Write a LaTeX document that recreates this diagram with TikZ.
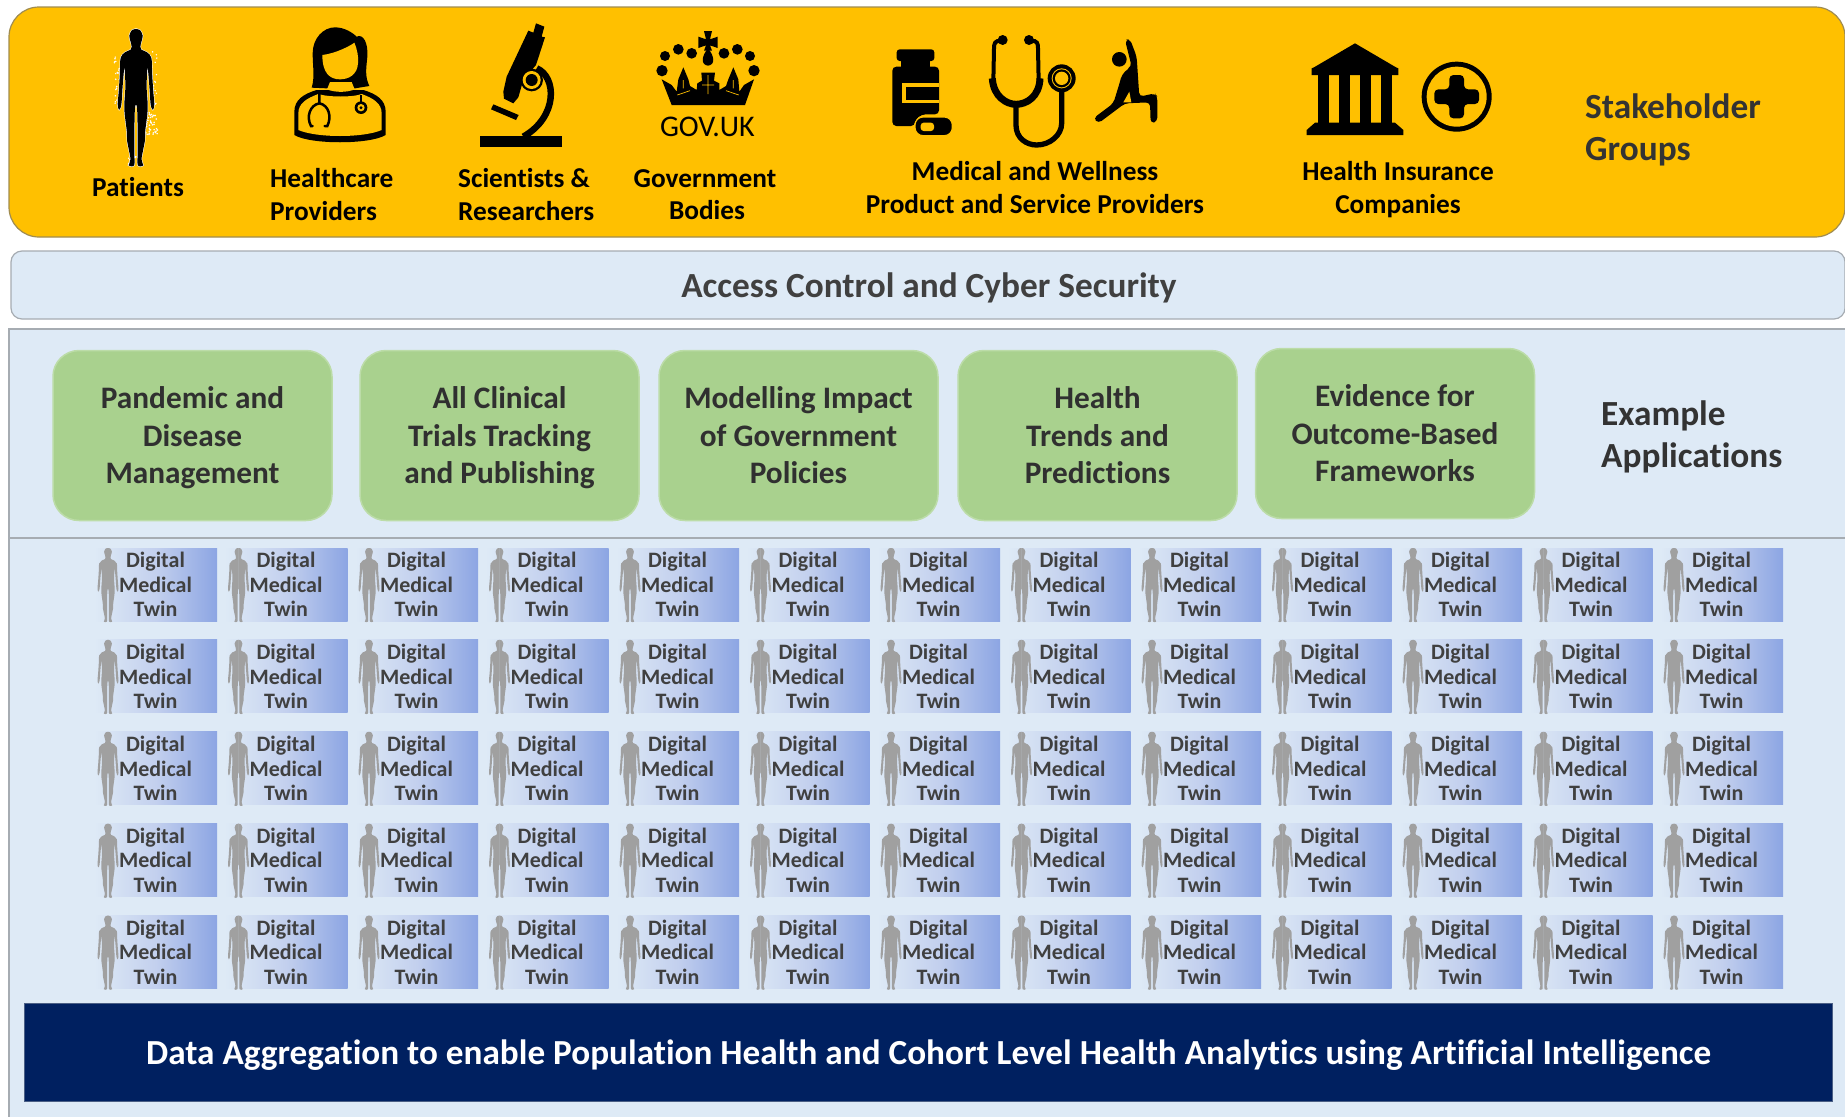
\documentclass[tikz,border=0pt]{standalone}
\usepackage{fontspec}
\setmainfont[Ligatures=NoCommon]{Carlito}
\definecolor{gold}{HTML}{FFC000}
\definecolor{goldedge}{HTML}{A08C50}
\definecolor{panel}{HTML}{DEEAF6}
\definecolor{panedge}{HTML}{A6ACB2}
\definecolor{leaf}{HTML}{A9D18E}
\definecolor{leafedge}{HTML}{BCDCA8}
\definecolor{navy}{HTML}{002060}
\definecolor{ink}{HTML}{404040}
\definecolor{tileright}{HTML}{8CA5E3}
\definecolor{tilemid}{HTML}{C3D0EE}
\definecolor{figure}{HTML}{A0A0A0}
\newcommand{\nd}[1]{\raisebox{0pt}[\height][0pt]{#1}}
\newcommand{\halfbody}{plot[smooth,tension=.5] coordinates{(-.1,0) (2.2,.8) (3.7,5) (2.8,10) (2.4,13) (2.8,15) (6,17) (8.4,21) (8.8,32) (9.4,45) (10,55) (9.2,59) (8,55) (7.2,40) (6.3,28) (5.8,42) (6.4,55) (6.2,62) (5,75) (4.8,82) (3,95) (4,99.5) (1,99.5) (.9,90) (.9,75) (.6,58) (-.1,55)} -- cycle}
\tikzset{
  person/.pic={\path[pic actions] \halfbody; \begin{scope}[xscale=-1]\path[pic actions] \halfbody;\end{scope}},
  topband/.style={draw=goldedge,line width=1.2pt,fill=gold,rounded corners=30pt,inner sep=0pt,minimum width=1836pt,minimum height=230pt},
  secband/.style={draw=panedge,line width=1.2pt,fill=panel,rounded corners=11pt,inner sep=0pt,minimum width=1834pt,minimum height=68pt},
  panelbox/.style={fill=panel,inner sep=0pt,minimum width=1837pt,minimum height=789pt},
  appbox/.style={draw=leafedge,line width=1.5pt,fill=leaf,rounded corners=26pt,inner sep=0pt,minimum width=279pt,minimum height=170pt,align=center,text=ink!75!black,font=\fontsize{31.3}{37.5}\selectfont\bfseries},
  twinbox/.style={left color=panel,right color=tileright,middle color=tilemid,inner sep=0pt,minimum width=123pt,minimum height=73pt,align=center,text=ink,font=\fontsize{22}{24.7}\selectfont\bfseries},
  databox/.style={fill=navy,draw=navy!55!panedge,line width=1pt,inner sep=0pt,minimum width=1808pt,minimum height=97.5pt,text=white,font=\fontsize{35.2}{40}\selectfont\bfseries},
  who/.style={inner sep=0pt,font=\fontsize{27.3}{33}\selectfont\bfseries,text=black},
  whoL/.style={who,anchor=west},
  heading/.style={inner sep=0pt,anchor=west,font=\fontsize{35.3}{42}\selectfont\bfseries,text=ink!80!black},
  rulegray/.style={draw=panedge,line width=2pt},
  Zl/.style={shift={(280,20)},scale=.33333},
  Zc/.style={shift={(640,20)},scale=.33333},
  Zm/.style={shift={(880,25)},scale=.33333},
  Zp/.style={shift={(95,20)},scale=.33333},
  Zb/.style={shift={(1290,30)},scale=.33333}
}
\begin{document}
\begin{tikzpicture}[x=1pt,y=-1pt]
\useasboundingbox (0,0) rectangle (1845,1117);
\fill[white] (0,0) rectangle (1845,1117);
% bands
\node[topband] (stake) at (927,122) {};
\node[secband] (access) at (928,285) {};
\node[ink,font=\fontsize{35.3}{40}\selectfont\bfseries,inner sep=0pt] (accesslabel) at (929,288) {Access Control and Cyber Security};
\node[panelbox] (main) at (926.5,722.5) {};
\coordinate (pTL) at (9,328.5); \coordinate (pTR) at (1845,328.5);
\coordinate (pBL) at (9,1117); \coordinate (mL) at (9,538); \coordinate (mR) at (1845,538);
\draw[rulegray] (pTR) -- (pTL) -- (pBL);
\draw[rulegray,line width=1.5pt] (mL) -- (mR);
% applications
\node[appbox] (app1) at (192.5,435.5) {Pandemic and\\Disease\\\nd{Management}};
\node[appbox] (app2) at (499.5,435.5) {All Clinical\\Trials Tracking\\\nd{and Publishing}};
\node[appbox] (app3) at (798.5,435.5) {Modelling Impact\\of Government\\Policies};
\node[appbox] (app4) at (1097.5,435.5) {Health\\Trends and\\Predictions};
\node[appbox] (app5) at (1395,433.5) {Evidence for\\Outcome-Based\\Frameworks};
\node[heading] (apphead) at (1601,438) {\begin{tabular}{@{}l@{}}Example\\Applications\end{tabular}};
% twins
\foreach \r in {0,...,4}{\foreach \c in {0,...,12}{
  \node[twinbox] (t\r-\c) at ({155.5+130.5*\c},{584.5+91.9*\r}) {Digital\\Medical\\Twin};
  \pic[fill=figure,xscale=1.05,yscale=.74] at ({108+130.5*\c},{548+91.9*\r}) {person};
}}
% data
\node[databox] (data) at (928.5,1052.5) {\raisebox{-11.5pt}[0pt][0pt]{Data Aggregation to enable Population Health and Cohort Level Health Analytics using Artificial Intelligence}};
% stakeholder labels
\node[who] (l1) at (138,187) {Patients};
\node[whoL] (l2a) at (270,178.5) {Healthcare};
\node[whoL] (l2b) at (270,211.5) {Providers};
\node[whoL] (l3a) at (458,178.5) {Scientists \&};
\node[whoL] (l3b) at (458,211.5) {Researchers};
\node[who] (l4a) at (705,178.5) {Government};
\node[who] (l4b) at (707,210.5) {Bodies};
\node[who] (l5a) at (1035,171.5) {Medical and Wellness};
\node[who] (l5b) at (1035,204.5) {Product and Service Providers};
\node[who] (l6a) at (1398,171.5) {Health Insurance};
\node[who] (l6b) at (1398,206) {Companies};
\node[heading] (sh) at (1585,131.5) {\begin{tabular}{@{}l@{}}Stakeholder\\Groups\end{tabular}};
% patient
\begin{scope}[Zp]
\pgfmathsetseed{7}
\foreach \i in {1,...,50} \fill[white] ({150+rnd*38},{275+rnd*70}) circle (2.6);
\foreach \i in {1,...,22} \fill[white] ({58+rnd*16},{110+rnd*140}) circle (2.4);
\foreach \i in {1,...,20} \fill[white] ({168+rnd*18},{90+rnd*170}) circle (2.4);
\foreach \i in {1,...,16} \fill[white] ({95+rnd*60},{405+rnd*35}) circle (2.4);
\end{scope}
\pic[draw=white,fill=white,line width=1pt,xscale=1.83,yscale=1.37] at (136,29) {person};
\pic[fill=black,xscale=1.83,yscale=1.37] at (136,29) {person};
\begin{scope}[Zl]
% doctor
\fill (110,210) .. controls (70,222) and (43,240) .. (43,275) -- (43,345) .. controls (90,374) and (270,374) .. (317,345) -- (317,275) .. controls (317,240) and (290,222) .. (250,210) -- cycle;
\fill[gold] (115,222) .. controls (80,235) and (55,250) .. (55,280) -- (55,330) .. controls (110,354) and (250,354) .. (305,330) -- (305,280) .. controls (305,250) and (280,235) .. (245,222) .. controls (220,232) and (145,232) .. (115,222) -- cycle;
\fill (95,203) .. controls (105,170) and (98,140) .. (98,100) .. controls (98,55) and (130,22) .. (165,22) .. controls (195,22) and (220,40) .. (230,50) .. controls (250,40) and (265,70) .. (262,110) .. controls (258,150) and (255,170) .. (268,198) -- (225,205) -- (140,205) -- cycle;
\fill[gold] (127,105) .. controls (170,100) and (215,75) .. (223,68) .. controls (232,90) and (236,110) .. (234,130) .. controls (232,165) and (205,178) .. (180,178) .. controls (150,178) and (127,160) .. (127,105) -- cycle;
\fill[gold] (150,186) -- (215,186) -- (224,208) .. controls (200,218) and (165,218) .. (141,208) -- cycle;
\draw[line width=2.5pt,line cap=round] (118,222) -- (118,250) (98,318) -- (93,318) .. controls (78,290) and (90,255) .. (118,250) .. controls (146,255) and (156,290) .. (142,318) -- (134,318);
\draw[line width=2.5pt] (243,225) -- (243,248);
\fill (243,263) circle (19);
\fill[gold] (243,263) circle (11);
\fill (243,263) circle (5);
% microscope
\fill (600,348) rectangle (847,382);
\fill (768,10) -- (793,20) -- (785,50) -- (795,52) -- (768,135) -- (730,180) -- (715,232) -- (700,250) -- (672,236) -- (670,215) -- (680,170) -- (745,32) -- (760,38) -- cycle;
\draw[line width=6.5pt] (770,145) .. controls (830,170) and (835,290) .. (730,350);
\fill (755,180) circle (34);
\fill[gold] (755,180) circle (27);
\fill (755,180) circle (18);
\fill (640,253) -- (716,285) -- (708,300) -- (633,268) -- cycle;
\end{scope}
\begin{scope}[Zc]
% crown
\foreach \px/\py/\pr in {75/108/15,115/88/16,155/100/16,252/100/16,292/88/16,330/108/15,66/152/17,342/152/17}
  \fill (\px,\py) circle (\pr);
\fill (192,33) -- (216,33) -- (210,58) -- (233,50) -- (233,84) -- (210,76) -- (216,92) -- (192,92) -- (198,76) -- (175,84) -- (175,50) -- (198,58) -- cycle;
\fill (204,85) .. controls (225,110) and (225,135) .. (204,137) .. controls (183,135) and (183,110) .. (204,85) -- cycle;
\fill (65,178) -- (95,195) -- (110,215) -- (115,178) -- (130,142) -- (145,178) -- (150,198) -- (170,210) -- (172,190) -- (186,182) -- (184,158) -- (225,158) -- (222,182) -- (238,190) -- (238,210) -- (258,198) -- (265,178) -- (280,142) -- (295,178) -- (298,215) -- (312,195) -- (342,178) -- (315,255) -- (95,255) -- cycle;
\draw[gold,line width=.7pt] (204,165) -- (204,222) (186,195) -- (222,195) (112,225) -- (150,212) (296,225) -- (258,212) (130,180) -- (130,205) (280,180) -- (280,205);
\node[inner sep=0pt,font=\fontsize{30}{32}\selectfont,text=black] (govuk) at (202,320) {GOV.UK};
\end{scope}
\begin{scope}[Zm]
% bottle
\fill[rounded corners=3pt] (50,73) rectangle (163,108);
\fill (62,105) rectangle (150,128);
\fill[rounded corners=4pt] (37,125) -- (177,125) -- (177,268) -- (125,268) -- (105,285) -- (105,303) -- (37,303) -- cycle;
\fill[gold] (65,175) rectangle (177,235);
\fill (77,185) rectangle (177,225);
\fill[draw=gold,line width=1.2pt,rounded corners=8pt] (105,276) rectangle (217,332);
\fill[gold,rounded corners=3pt] (122,293) rectangle (162,318);
% stethoscope
\draw[line width=4pt] (362,47) .. controls (345,47) and (342,55) .. (342,70) -- (340,170);
\draw[line width=4pt] (453,47) .. controls (472,47) and (474,55) .. (474,70) -- (476,170);
\draw[line width=7pt] (337,160) .. controls (340,215) and (380,238) .. (408,238) .. controls (440,238) and (478,215) .. (480,160);
\draw[line width=5.3pt] (408,238) -- (408,300) .. controls (408,340) and (440,360) .. (470,360) .. controls (510,360) and (545,330) .. (545,295) -- (545,195);
\fill (368,45) circle (15);
\fill (447,45) circle (15);
\fill (545,160) circle (42);
\fill[gold] (545,160) circle (30);
\fill (545,160) circle (27);
\fill[gold] (545,160) circle (20);
% runner
\fill (718,103) circle (22);
\fill[rounded corners=4pt] (735,45) -- (750,42) -- (770,95) -- (778,215) -- (825,205) -- (832,215) -- (832,290) -- (812,295) -- (810,232) -- (735,235) -- (655,295) -- (640,280) -- (700,235) -- (720,170) -- (725,150) -- (745,130) -- (755,125) -- (745,85) -- cycle;
\fill[gold] (748,200) -- (754,232) -- (730,232) -- cycle;
\end{scope}
\begin{scope}[Zb]
% bank
\fill (195,40) -- (318,112) -- (325,115) -- (325,135) -- (65,135) -- (65,115) -- (72,112) -- cycle;
\foreach \ca/\cb in {85/118,148/180,210/242,272/305} \fill (\ca,130) rectangle (\cb,285);
\fill (50,300) -- (75,278) -- (315,278) -- (340,300) -- (340,315) -- (50,315) -- cycle;
% plus
\fill (500,200) circle (105);
\fill[gold] (500,200) circle (90);
\fill[rounded corners=4pt] (478,135) -- (522,135) -- (522,178) -- (567,178) -- (567,222) -- (522,222) -- (522,265) -- (478,265) -- (478,222) -- (433,222) -- (433,178) -- (478,178) -- cycle;
\end{scope}
\end{tikzpicture}
\end{document}
